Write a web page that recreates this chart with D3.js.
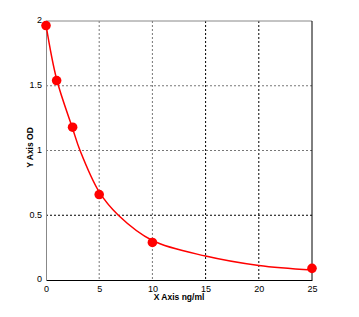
<!DOCTYPE html>
<html>
<head>
<meta charset="utf-8">
<script src="https://cdn.jsdelivr.net/npm/d3@7"></script>
<style>
  body { margin: 0; background: #fff; }
  text { font-family: "Liberation Sans", Arial, sans-serif; }
</style>
</head>
<body>
<div id="chart"></div>
<script>
// measured standard points
var conc = [0, 1, 2.5, 5, 10, 25];
var od = [1.965, 1.54, 1.18, 0.66, 0.29, 0.09];

// fitted curve
var curveX = [0, 1, 2.5, 3.2, 5, 6.8, 10, 15, 20, 25];
var curveY = [1.97, 1.55, 1.17, 1.0, 0.68, 0.5, 0.305, 0.185, 0.112, 0.077];

var xTicks = [0, 5, 10, 15, 20, 25];
var yTicks = [0, 0.5, 1, 1.5, 2];

// set the dimensions and margins of the graph
var margin = {top: 21, right: 47, bottom: 37, left: 46},
    width = 359 - margin.left - margin.right,
    height = 317 - margin.top - margin.bottom;

var svg = d3.select("#chart")
  .append("svg")
    .attr("width", 359)
    .attr("height", 317)
  .append("g")
    .attr("transform", "translate(" + margin.left + "," + margin.top + ")");

var x = d3.scaleLinear().domain([0, 25]).range([0, width]);
var y = d3.scaleLinear().domain([0, 2]).range([height, 0]);

// grid lines (left ones look grey, right ones black)
svg.selectAll(".vgrid")
    .data(xTicks.slice(1, -1))
  .enter().append("line")
    .attr("x1", function(d) { return x(d); })
    .attr("x2", function(d) { return x(d); })
    .attr("y1", 0)
    .attr("y2", height)
    .style("stroke", function(d) { return d < 12 ? "#777" : "#000"; })
    .style("stroke-dasharray", "2,2");

svg.selectAll(".hgrid")
    .data(yTicks.slice(1, -1))
  .enter().append("line")
    .attr("x1", 0)
    .attr("x2", width)
    .attr("y1", function(d) { return y(d); })
    .attr("y2", function(d) { return y(d); })
    .style("stroke", function(d) { return d > 0.7 ? "#777" : "#000"; })
    .style("stroke-dasharray", "2,2");

// frame
svg.append("line").attr("x1", 0).attr("x2", width).attr("y1", 0).attr("y2", 0)
    .style("stroke", "#888");
svg.append("line").attr("x1", width).attr("x2", width).attr("y1", 0).attr("y2", height)
    .style("stroke", "#000");

// axes
var xAxis = svg.append("g")
    .attr("transform", "translate(0," + height + ")")
    .call(d3.axisBottom(x).tickValues(xTicks).tickSize(0).tickPadding(4));
xAxis.select(".domain").style("stroke", "#000");

var yAxis = svg.append("g")
    .call(d3.axisLeft(y).tickValues(yTicks).tickSize(0).tickPadding(4)
      .tickFormat(d3.format("")));
yAxis.select(".domain").style("stroke", "#888");

svg.selectAll(".tick text").style("font-size", "9px").attr("fill", "#000");
xAxis.selectAll(".tick text").attr("dy", "0.9em");
yAxis.selectAll(".tick text").attr("dy", "0.2em");

// axis titles
svg.append("text")
    .attr("x", x(12.5))
    .attr("y", height + 20)
    .attr("text-anchor", "middle")
    .style("font-size", "8.5px")
    .style("font-weight", "bold")
    .text("X Axis ng/ml");

svg.append("text")
    .attr("transform", "translate(-13," + (y(1) - 3) + ") rotate(-90)")
    .attr("text-anchor", "middle")
    .style("font-size", "8.5px")
    .style("font-weight", "bold")
    .text("Y Axis OD");

// fitted curve
var line = d3.line()
    .x(function(d) { return x(d[0]); })
    .y(function(d) { return y(d[1]); })
    .curve(d3.curveCatmullRom.alpha(0.5));

svg.append("path")
    .datum(d3.zip(curveX, curveY))
    .attr("d", line)
    .style("fill", "none")
    .style("stroke", "#ff0000")
    .style("stroke-width", 1.5);

// points
svg.selectAll("dot")
    .data(d3.zip(conc, od))
  .enter().append("circle")
    .attr("r", 4.8)
    .attr("cx", function(d) { return x(d[0]); })
    .attr("cy", function(d) { return y(d[1]); })
    .style("fill", "#ff0000");
</script>
</body>
</html>
